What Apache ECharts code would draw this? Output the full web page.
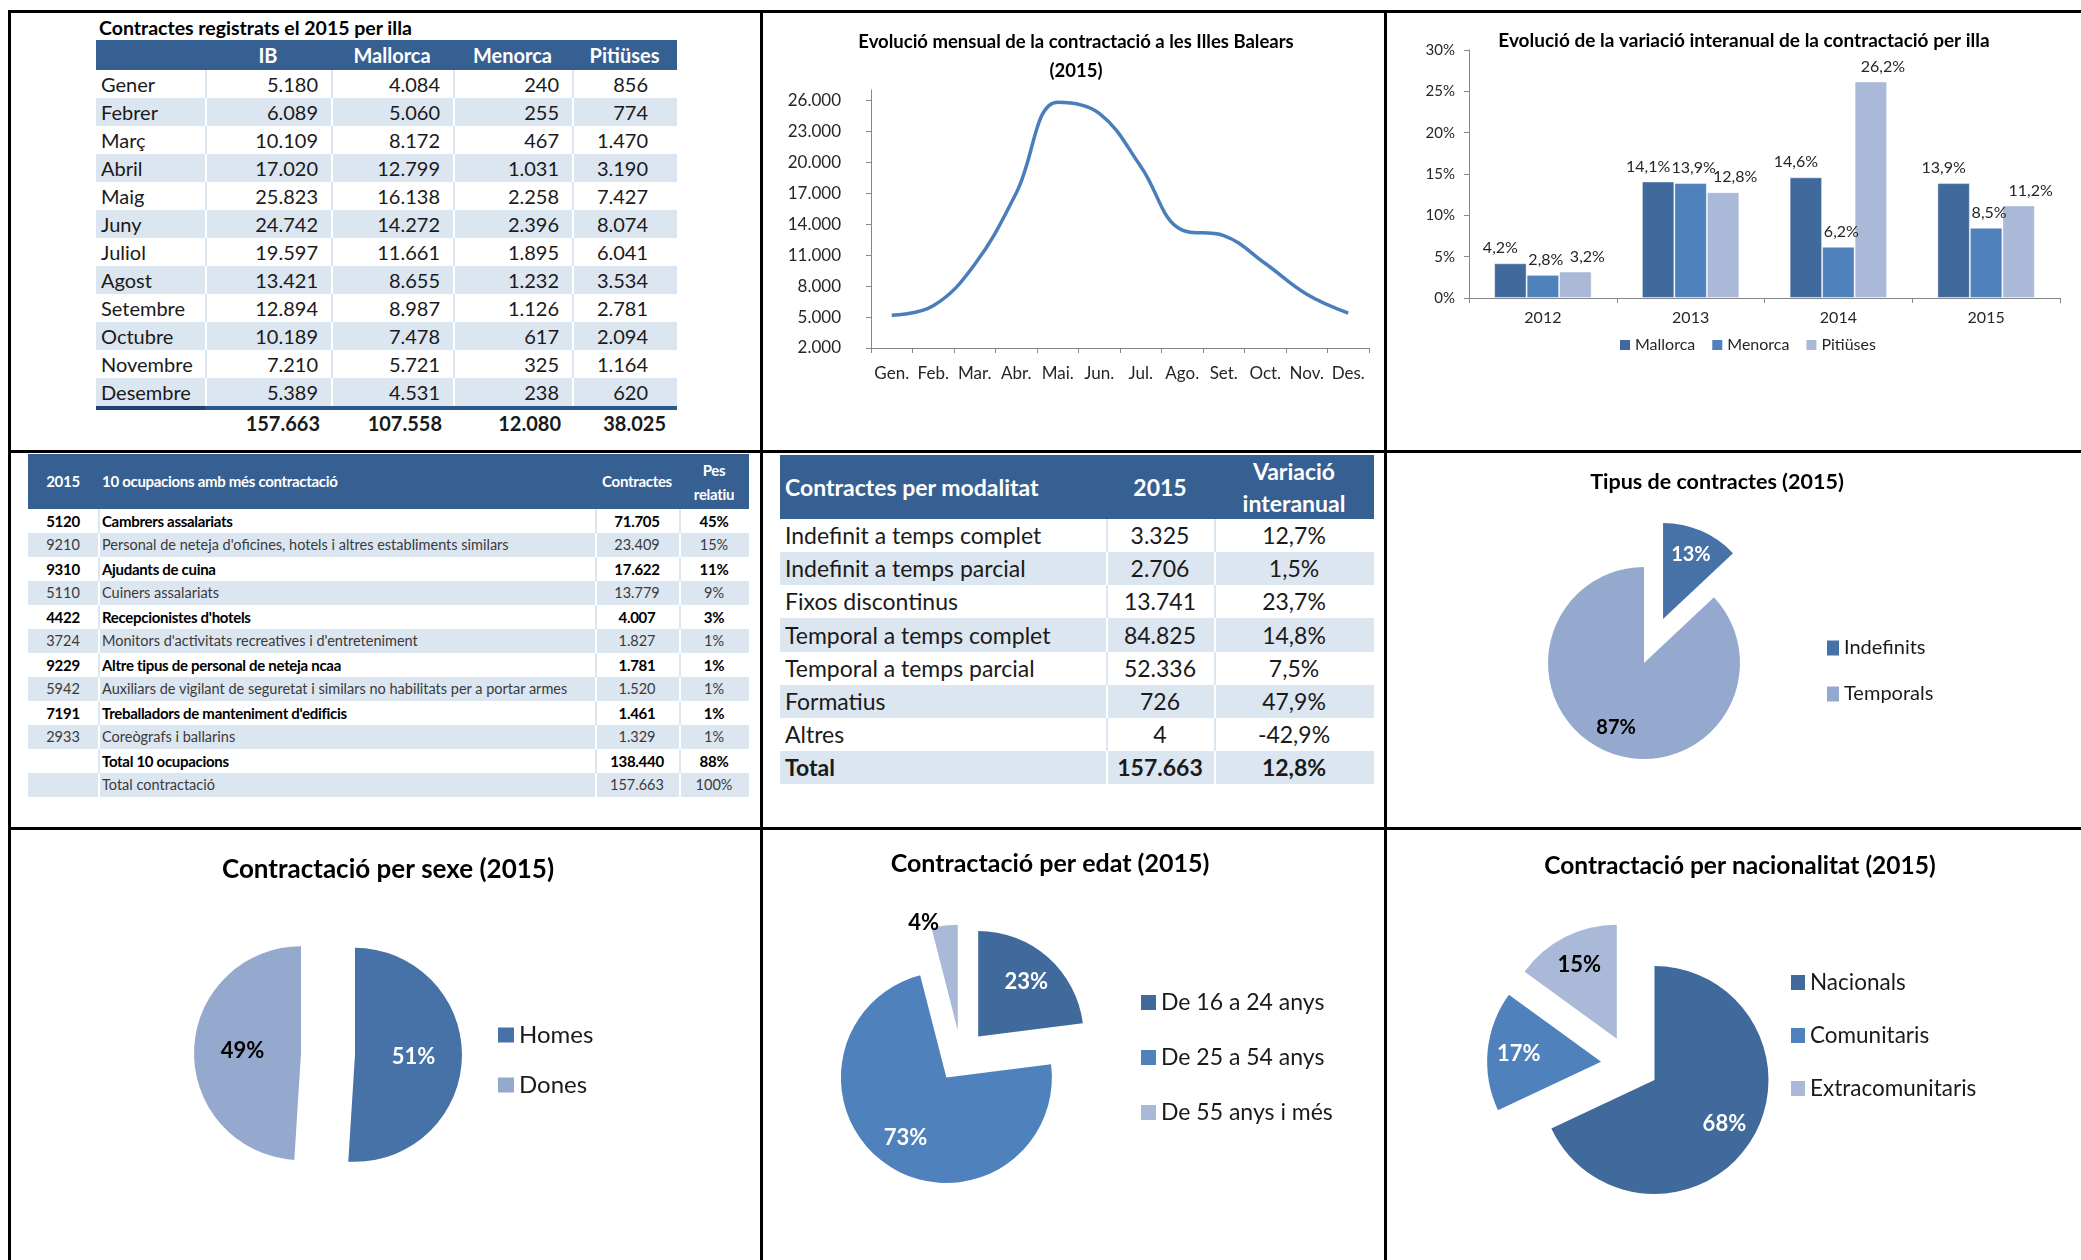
<!DOCTYPE html>
<html lang="ca">
<head>
<meta charset="utf-8">
<title>Contractació 2015 - Illes Balears</title>
<script src="https://cdn.jsdelivr.net/npm/echarts@6.0.0/dist/echarts.min.js"></script>
<style>
    html, body { margin: 0; padding: 0; background: #fff; }
    body { position: relative; width: 2081px; height: 1260px; overflow: hidden; font-family: Lato, 'Open Sans', sans-serif; color: #1a1a1a; }
    .panel { position: absolute; overflow: hidden; }
    .rule-line { position: absolute; background: #000; }
    .ttl { position: absolute; font-weight: bold; white-space: nowrap; color: #000; }
    .tb { position: absolute; border-collapse: separate; border-spacing: 0; table-layout: fixed; }
    .tb td { padding: 0; white-space: nowrap; overflow: hidden; vertical-align: middle; line-height: 1; background: #fff; }
    .tb tr.alt td { background: #dce6f1; }
    .tb td + td { box-shadow: inset 2px 0 0 #dce6f1; }
    .tb tr.alt td + td { box-shadow: inset 2px 0 0 #fff; }
    .tb tr.hd td { background: #376092; color: #fff; font-weight: bold; box-shadow: none; }

    .t1 td { height: 28px; font-size: 20px; }
    .t1 tr.hd td { height: 30px; font-size: 20px; text-align: center; }
    .t1 td.lbl { padding-left: 5px; }
    .t1 td.num { text-align: right; padding-right: 13px; }
    .t1 td.num.last { padding-right: 29px; }
    .t1 tr.rule td { height: 4px; background: #2b5687; box-shadow: none; }
    .t1 tr.rule td:first-child { background: #1f4374; }
    .t1 tr.tot td { height: 26px; font-weight: bold; box-shadow: none; text-align: right; padding-right: 11px; }

    .t2 td { height: 24px; font-size: 15px; color: #000; font-weight: bold; letter-spacing: -0.3px; }
    .t2 tr.alt td { color: #3a3a3a; font-weight: normal; letter-spacing: 0; font-size: 14.5px; }
    .t2 tr.hd td { height: 55px; font-size: 15px; letter-spacing: -0.3px; }
    .t2 td.c { text-align: center; }
    .t2 td.n { padding-left: 4px; }

    .t3 td { height: 33.16px; font-size: 23px; }
    .t3 tr.hd td { height: 64px; font-size: 23px; }
    .t3 td.l { padding-left: 5px; text-align: left; }
    .t3 td.c { text-align: center; }
    .t3 tr.tot td { font-weight: bold; }
</style>
</head>
<body>
<script>
// ---------- data ----------
const months = ['Gener', 'Febrer', 'Març', 'Abril', 'Maig', 'Juny', 'Juliol', 'Agost', 'Setembre', 'Octubre', 'Novembre', 'Desembre'];
const monthShort = ['Gen.', 'Feb.', 'Mar.', 'Abr.', 'Mai.', 'Jun.', 'Jul.', 'Ago.', 'Set.', 'Oct.', 'Nov.', 'Des.'];
const islandCols = ['IB', 'Mallorca', 'Menorca', 'Pitiüses'];
const contractsIB = [5180, 6089, 10109, 17020, 25823, 24742, 19597, 13421, 12894, 10189, 7210, 5389];
const contractsMallorca = [4084, 5060, 8172, 12799, 16138, 14272, 11661, 8655, 8987, 7478, 5721, 4531];
const contractsMenorca = [240, 255, 467, 1031, 2258, 2396, 1895, 1232, 1126, 617, 325, 238];
const contractsPitiuses = [856, 774, 1470, 3190, 7427, 8074, 6041, 3534, 2781, 2094, 1164, 620];
const islandTotals = [157663, 107558, 12080, 38025];

const years = ['2012', '2013', '2014', '2015'];
const varMallorca = [4.2, 14.1, 14.6, 13.9];
const varMenorca = [2.8, 13.9, 6.2, 8.5];
const varPitiuses = [3.2, 12.8, 26.2, 11.2];

const occCodes = ['5120', '9210', '9310', '5110', '4422', '3724', '9229', '5942', '7191', '2933', '', ''];
const occNames = ['Cambrers assalariats', "Personal de neteja d'oficines, hotels i altres establiments similars", 'Ajudants de cuina',
    'Cuiners assalariats', "Recepcionistes d'hotels", "Monitors d'activitats recreatives i d'entreteniment",
    'Altre tipus de personal de neteja ncaa', 'Auxiliars de vigilant de seguretat i similars no habilitats per a portar armes',
    "Treballadors de manteniment d'edificis", 'Coreògrafs i ballarins', 'Total 10 ocupacions', 'Total contractació'];
const occContracts = [71705, 23409, 17622, 13779, 4007, 1827, 1781, 1520, 1461, 1329, 138440, 157663];
const occShare = ['45%', '15%', '11%', '9%', '3%', '1%', '1%', '1%', '1%', '1%', '88%', '100%'];

const modalitats = ['Indefinit a temps complet', 'Indefinit a temps parcial', 'Fixos discontinus', 'Temporal a temps complet',
    'Temporal a temps parcial', 'Formatius', 'Altres', 'Total'];
const modalitat2015 = [3325, 2706, 13741, 84825, 52336, 726, 4, 157663];
const modalitatVar = [12.7, 1.5, 23.7, 14.8, 7.5, 47.9, -42.9, 12.8];

const tipusNames = ['Indefinits', 'Temporals'];
const tipusValues = [13, 87];
const sexeNames = ['Homes', 'Dones'];
const sexeValues = [51, 49];
const edatNames = ['De 16 a 24 anys', 'De 25 a 54 anys', 'De 55 anys i més'];
const edatValues = [23, 73, 4];
const nacNames = ['Nacionals', 'Comunitaris', 'Extracomunitaris'];
const nacValues = [68, 17, 15];

// ---------- helpers ----------
const fmtInt = n => String(n).replace(/\B(?=(\d{3})+(?!\d))/g, '.');
const fmtPct = v => v.toFixed(1).replace('.', ',') + '%';

const darkBlue = '#416a9c', midBlue = '#4f81bd', lightBlue = '#aab9d7';
const pieDark = '#4672a8', pieLight = '#95a9cf';

function makePanel(x, y, w, h) {
    let p = document.createElement('div');
    p.className = 'panel';
    p.style.cssText = 'left:' + x + 'px;top:' + y + 'px;width:' + w + 'px;height:' + h + 'px';
    document.body.appendChild(p);
    return p;
}

function colgroup(widths) {
    return '<colgroup>' + widths.map(w => '<col style="width:' + w + 'px">').join('') + '</colgroup>';
}

// ---------- table 1: contractes per illa ----------
(function () {
    let el = makePanel(7, 11, 753, 440);
    let html = '<div class="ttl" style="left:92px;top:5px;font-size:19.5px;">Contractes registrats el 2015 per illa</div>';
    html += '<table class="tb t1" style="left:89px;top:29px;">' + colgroup([109, 126, 122, 119, 105]);
    html += '<tr class="hd"><td></td>' + islandCols.map(c => '<td>' + c + '</td>').join('') + '</tr>';
    months.forEach(function (m, i) {
        let vals = [contractsIB[i], contractsMallorca[i], contractsMenorca[i], contractsPitiuses[i]];
        html += '<tr class="' + (i % 2 ? 'alt' : '') + '"><td class="lbl">' + m + '</td>' +
            vals.map((v, j) => '<td class="num' + (j === 3 ? ' last' : '') + '">' + fmtInt(v) + '</td>').join('') + '</tr>';
    });
    html += '<tr class="rule"><td></td><td colspan="4"></td></tr>';
    html += '<tr class="tot"><td></td>' + islandTotals.map(v => '<td>' + fmtInt(v) + '</td>').join('') + '</tr>';
    html += '</table>';
    el.innerHTML = html;
})();

// ---------- table 2: 10 ocupacions ----------
(function () {
    let el = makePanel(7, 451, 753, 377);
    let html = '<table class="tb t2" style="left:21px;top:3px;">' + colgroup([70, 497, 84, 70]);
    html += '<tr class="hd"><td class="c">2015</td><td class="n">10 ocupacions amb més contractació</td>' +
        '<td class="c">Contractes</td><td class="c" style="line-height:24px">Pes<br>relatiu</td></tr>';
    occNames.forEach(function (n, i) {
        html += '<tr class="' + (i % 2 ? 'alt' : '') + '"><td class="c">' + occCodes[i] + '</td><td class="n">' + n + '</td>' +
            '<td class="c">' + fmtInt(occContracts[i]) + '</td><td class="c">' + occShare[i] + '</td></tr>';
    });
    html += '</table>';
    el.innerHTML = html;
})();

// ---------- table 3: contractes per modalitat ----------
(function () {
    let el = makePanel(760, 451, 624, 377);
    let html = '<table class="tb t3" style="left:20px;top:4px;">' + colgroup([326, 108, 160]);
    html += '<tr class="hd"><td class="l">Contractes per modalitat</td><td class="c">2015</td>' +
        '<td class="c" style="line-height:32px">Variació<br>interanual</td></tr>';
    modalitats.forEach(function (m, i) {
        let cls = (i % 2 ? 'alt' : '') + (i === modalitats.length - 1 ? ' tot' : '');
        html += '<tr class="' + cls + '"><td class="l">' + m + '</td><td class="c">' + fmtInt(modalitat2015[i]) + '</td>' +
            '<td class="c">' + fmtPct(modalitatVar[i]) + '</td></tr>';
    });
    html += '</table>';
    el.innerHTML = html;
})();

// ---------- line chart ----------
function chartLine() {
    let chartDom = makePanel(760, 11, 624, 440);
    let myChart = echarts.init(chartDom);
    let option = {
        animation: false,
        textStyle: {fontFamily: 'Lato'},
        title: {
            text: 'Evolució mensual de la contractació a les Illes Balears\n(2015)',
            left: 316, top: 17, textAlign: 'center', padding: 0,
            textStyle: {fontSize: 18.5, fontWeight: 'bold', color: '#000', lineHeight: 29, fontFamily: 'Lato'}
        },
        grid: {left: 111, right: 15, top: 79, bottom: 103},
        xAxis: {
            type: 'category',
            data: monthShort,
            axisLine: {lineStyle: {color: '#868686'}},
            axisTick: {show: true, length: 5, lineStyle: {color: '#868686'}},
            axisLabel: {interval: 0, fontSize: 17, color: '#262626', margin: 17}
        },
        yAxis: {
            type: 'value',
            min: 2000,
            max: 27000,
            interval: 3000,
            axisLine: {show: true, lineStyle: {color: '#868686'}},
            axisTick: {show: true, length: 5, lineStyle: {color: '#868686'}},
            splitLine: {show: false},
            axisLabel: {fontSize: 17, color: '#262626', margin: 30, showMaxLabel: false, formatter: v => fmtInt(v)}
        },
        series: [
            {
                name: 'IB',
                type: 'line',
                smooth: 0.4,
                symbol: 'none',
                lineStyle: {width: 3.5, color: '#4a7ebb'},
                data: contractsIB
            }
        ]
    };
    option && myChart.setOption(option);
}

// ---------- bar chart ----------
function chartBar() {
    let chartDom = makePanel(1384, 11, 697, 440);
    let myChart = echarts.init(chartDom);
    // labels are wider than the bars, so nudge them apart like the original sheet does
    let barLabel = function (dx) {
        return {
            show: true, position: 'top', distance: 7, offset: [dx, 0],
            fontSize: 16, color: '#262626', fontFamily: 'Lato',
            formatter: p => fmtPct(p.value)
        };
    };
    let barStyle = function (color) {
        return {color: color, borderColor: 'rgba(255,255,255,0.45)', borderWidth: 1};
    };
    let option = {
        animation: false,
        textStyle: {fontFamily: 'Lato'},
        title: {
            text: 'Evolució de la variació interanual de la contractació per illa',
            left: 360, top: 18, textAlign: 'center', padding: 0,
            textStyle: {fontSize: 19, fontWeight: 'bold', color: '#000', lineHeight: 23, fontFamily: 'Lato'}
        },
        legend: {
            left: 236, top: 326, padding: 0, itemGap: 17, itemWidth: 10, itemHeight: 10, icon: 'rect',
            selectedMode: false,
            textStyle: {fontSize: 16, color: '#262626', fontFamily: 'Lato'},
            data: [
                {name: 'Mallorca', itemStyle: {color: darkBlue, borderWidth: 0}},
                {name: 'Menorca', itemStyle: {color: midBlue, borderWidth: 0}},
                {name: 'Pitiüses', itemStyle: {color: lightBlue, borderWidth: 0}}
            ]
        },
        grid: {left: 85, right: 21, top: 39, bottom: 153},
        xAxis: {
            type: 'category',
            data: years,
            axisLine: {lineStyle: {color: '#868686'}},
            axisTick: {show: true, length: 5, lineStyle: {color: '#868686'}},
            axisLabel: {fontSize: 16, color: '#262626', margin: 12}
        },
        yAxis: {
            type: 'value',
            min: 0,
            max: 30,
            interval: 5,
            axisLine: {show: true, lineStyle: {color: '#868686'}},
            axisTick: {show: true, length: 5, lineStyle: {color: '#868686'}},
            splitLine: {show: false},
            axisLabel: {fontSize: 15, color: '#262626', margin: 14, formatter: '{value}%'}
        },
        series: [
            {name: 'Mallorca', type: 'bar', barGap: '0%', barCategoryGap: '34%', itemStyle: barStyle(darkBlue), label: barLabel(-10), data: varMallorca},
            {name: 'Menorca', type: 'bar', itemStyle: barStyle(midBlue), label: barLabel(3), data: varMenorca},
            {name: 'Pitiüses', type: 'bar', itemStyle: barStyle(lightBlue), label: barLabel(12), data: varPitiuses}
        ]
    };
    option && myChart.setOption(option);
}

// ---------- pies ----------
function chartPie(cfg) {
    let chartDom = makePanel(cfg.box[0], cfg.box[1], cfg.box[2], cfg.box[3]);
    let myChart = echarts.init(chartDom);

    function pieData(transparent) {
        return cfg.names.map(function (n, i) {
            let item = {
                name: n,
                value: cfg.values[i],
                selected: cfg.exploded[i],
                itemStyle: {color: transparent ? 'rgba(0,0,0,0)' : cfg.colors[i]},
                label: {color: cfg.labelColors[i]}
            };
            if (cfg.outside && cfg.outside[i]) {
                item.label.position = 'outside';
                item.labelLine = {show: false, length: 3, length2: 0};
            }
            return item;
        });
    }

    let pieBase = {
        type: 'pie',
        center: cfg.center,
        startAngle: 90,
        clockwise: true,
        selectedMode: 'multiple',
        selectedOffset: cfg.offset,
        percentPrecision: 0,
        avoidLabelOverlap: false,
        itemStyle: {borderWidth: 0},
        select: {itemStyle: {borderWidth: 0}},
        labelLine: {show: false},
        label: {show: true, position: 'inside', formatter: '{d}%', fontSize: cfg.labelSize, fontWeight: 'bold', fontFamily: 'Lato'}
    };

    let series = [Object.assign({}, pieBase, {radius: cfg.radius, data: pieData(false)})];
    if (cfg.labelRatio) {
        // the sheet puts the percentages further out than half the radius: carry them on a clear ring
        series[0].label = {show: false};
        series.push(Object.assign({}, pieBase, {
            radius: [cfg.radius * (2 * cfg.labelRatio - 1), cfg.radius],
            silent: true,
            data: pieData(true)
        }));
    }

    let option = {
        animation: false,
        textStyle: {fontFamily: 'Lato'},
        title: {
            text: cfg.title, left: cfg.titleX, top: cfg.titleTop, textAlign: 'center', padding: 0,
            textStyle: {fontSize: cfg.titleSize, fontWeight: 'bold', color: '#000', lineHeight: cfg.titleSize + 4, fontFamily: 'Lato'}
        },
        legend: {
            orient: 'vertical', left: cfg.legendX, top: cfg.legendTop, padding: 0,
            itemGap: cfg.legendGap, itemWidth: cfg.iconW, itemHeight: 15, icon: 'rect', selectedMode: false,
            textStyle: {fontSize: cfg.legendSize, color: '#1a1a1a', fontFamily: 'Lato'},
            data: cfg.names.map((n, i) => ({name: n, itemStyle: {color: cfg.colors[i]}}))
        },
        series: series
    };
    option && myChart.setOption(option);
}

chartLine();
chartBar();

chartPie({
    box: [1384, 451, 697, 377],
    title: 'Tipus de contractes (2015)', titleX: 333, titleTop: 18, titleSize: 21.5,
    names: tipusNames, values: tipusValues, exploded: [true, false],
    colors: [pieDark, pieLight], labelColors: ['#fff', '#000'], labelSize: 20, labelRatio: 0.7,
    center: [260, 212], radius: 96, offset: 48,
    legendX: 443, legendTop: 187, legendGap: 26, iconW: 12, legendSize: 20
});
chartPie({
    box: [7, 828, 753, 432],
    title: 'Contractació per sexe (2015)', titleX: 381, titleTop: 27, titleSize: 26,
    names: sexeNames, values: sexeValues, exploded: [true, true],
    colors: [pieDark, pieLight], labelColors: ['#fff', '#000'], labelSize: 22, labelRatio: 0.52,
    center: [321, 226], radius: 107, offset: 27,
    legendX: 491, legendTop: 195, legendGap: 26, iconW: 16, legendSize: 24
});
chartPie({
    box: [760, 828, 624, 432],
    title: 'Contractació per edat (2015)', titleX: 290, titleTop: 21, titleSize: 25,
    names: edatNames, values: edatValues, exploded: [true, true, true], outside: [false, false, true],
    colors: [darkBlue, midBlue, lightBlue], labelColors: ['#fff', '#fff', '#000'], labelSize: 22, labelRatio: 0.66,
    center: [201, 228], radius: 105.5, offset: 26,
    legendX: 381, legendTop: 163, legendGap: 32, iconW: 15, legendSize: 23
});
chartPie({
    box: [1384, 828, 697, 432],
    title: 'Contractació per nacionalitat (2015)', titleX: 356, titleTop: 24, titleSize: 24.5,
    names: nacNames, values: nacValues, exploded: [true, true, true],
    colors: [darkBlue, midBlue, lightBlue], labelColors: ['#fff', '#fff', '#000'], labelSize: 22, labelRatio: 0.7,
    center: [246, 236.5], radius: 114, offset: 29,
    legendX: 407, legendTop: 143, legendGap: 30, iconW: 14, legendSize: 22.5
});

// ---------- frame lines ----------
[[8, 10, 2073, 3], [8, 10, 3, 1250], [760, 10, 3, 1250], [1384, 10, 3, 1250], [8, 450, 2073, 3], [8, 827, 2073, 3]].forEach(function (r) {
    let d = document.createElement('div');
    d.className = 'rule-line';
    d.style.cssText = 'left:' + r[0] + 'px;top:' + r[1] + 'px;width:' + r[2] + 'px;height:' + r[3] + 'px';
    document.body.appendChild(d);
});
</script>
</body>
</html>
